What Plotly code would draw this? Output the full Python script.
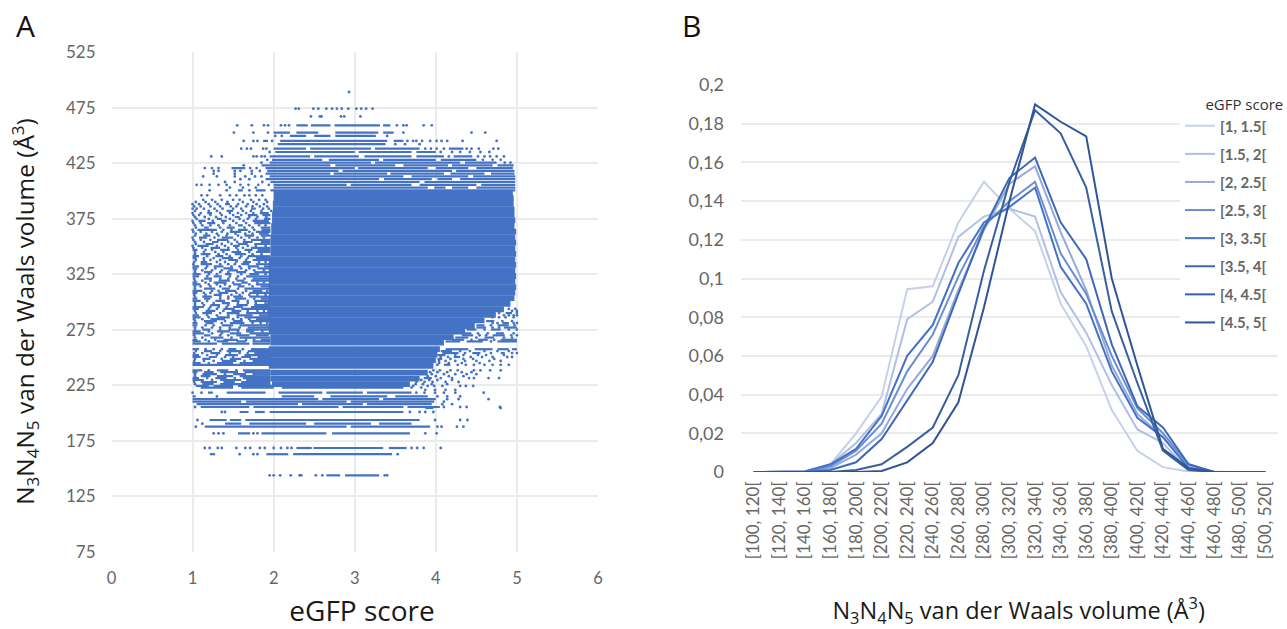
import plotly.graph_objects as go

# ---------- Panel B ----------
BIN_LABELS = ["[100, 120[", "[120, 140[", "[140, 160[", "[160, 180[", "[180, 200[", "[200, 220[", "[220, 240[",
              "[240, 260[", "[260, 280[", "[280, 300[", "[300, 320[", "[320, 340[", "[340, 360[", "[360, 380[",
              "[380, 400[", "[400, 420[", "[420, 440[", "[440, 460[", "[460, 480[", "[480, 500[", "[500, 520["]
S1 = [0, 0, 0.0003, 0.004, 0.020, 0.039, 0.0945, 0.096, 0.129, 0.150, 0.136, 0.1245, 0.087, 0.065, 0.032, 0.011, 0.0025, 0.0002, 0, 0, 0]
S2 = [0, 0, 0.0003, 0.004, 0.015, 0.030, 0.079, 0.088, 0.1215, 0.132, 0.136, 0.132, 0.093, 0.072, 0.045, 0.022, 0.015, 0.001, 0, 0, 0]
S3 = [0, 0, 0.0002, 0.002, 0.009, 0.020, 0.043, 0.060, 0.094, 0.125, 0.149, 0.158, 0.124, 0.094, 0.055, 0.030, 0.018, 0.003, 0, 0, 0]
S4 = [0, 0, 0.0003, 0.003, 0.011, 0.025, 0.052, 0.071, 0.101, 0.127, 0.140, 0.150, 0.113, 0.092, 0.060, 0.033, 0.020, 0.004, 0, 0, 0]
S5 = [0, 0, 0.0003, 0.004, 0.012, 0.029, 0.060, 0.076, 0.108, 0.129, 0.137, 0.147, 0.106, 0.087, 0.052, 0.028, 0.018, 0.002, 0, 0, 0]
S6 = [0, 0, 0, 0.001, 0.005, 0.017, 0.037, 0.057, 0.092, 0.126, 0.152, 0.1625, 0.129, 0.110, 0.066, 0.034, 0.023, 0.004, 0, 0, 0]
S7 = [0, 0, 0, 0, 0.001, 0.004, 0.013, 0.023, 0.050, 0.104, 0.150, 0.187, 0.175, 0.147, 0.083, 0.046, 0.011, 0.001, 0, 0, 0]
S8 = [0, 0, 0, 0, 0, 0.0005, 0.005, 0.015, 0.036, 0.085, 0.140, 0.190, 0.181, 0.1735, 0.100, 0.055, 0.012, 0.002, 0, 0, 0]
SERIES = [S1, S2, S3, S4, S5, S6, S7, S8]
SERIES_NAMES = ["[1, 1.5[", "[1.5, 2[", "[2, 2.5[", "[2.5, 3[", "[3, 3.5[", "[3.5, 4[", "[4, 4.5[", "[4.5, 5["]
SERIES_COLORS = ["#c6d0ea", "#b0bfe5", "#93aadd", "#6b8dd0", "#4472c4", "#4069b5", "#38609f", "#2f5597"]

# ---------- Panel A: rows of the cloud ----------
# Solid core: (volume, first score, last score)
CORE = [(226, 1.98, 3.68), (231, 1.96, 3.8), (236.4, 1.96, 3.9), (242.6, 1.94, 3.97), (247.6, 1.94, 4.0),
        (252.6, 1.94, 4.02), (257.6, 1.94, 4.05), (263.4, 1.96, 4.1), (268.4, 1.96, 4.22), (273.4, 1.94, 4.36),
        (278.4, 1.94, 4.48), (283.4, 1.94, 4.6), (288.4, 1.92, 4.74), (293.4, 1.92, 4.84), (298.4, 1.92, 4.92),
        (303.4, 1.94, 4.97), (308.4, 1.94, 4.98), (313.4, 1.94, 4.99), (318.4, 1.94, 4.98), (323.4, 1.94, 4.99),
        (328.4, 1.94, 4.98), (333.4, 1.94, 4.99), (338.4, 1.94, 4.98), (343.4, 1.96, 4.99), (348.4, 1.96, 4.98),
        (353.4, 1.96, 4.99), (358.4, 1.96, 4.98), (363.4, 1.97, 4.99), (368.4, 1.97, 4.97), (373.4, 1.98, 4.98),
        (378.4, 1.98, 4.97), (383.4, 1.99, 4.97), (388.4, 1.99, 4.96), (393.4, 2.0, 4.96), (398.0, 2.0, 4.95)]

# Thin rows with gaps: volume -> dots (single score) and runs (first, last)
ROWS = {
    489: [2.93],
    474: [2.27, 2.31, 2.49, 2.55, 2.65, 2.72, 2.78, 2.84, 2.92, 3.02, 3.08, 3.14, 3.22],
    467: [2.46, 2.57, 2.59, 2.83, 2.87, 3.07],
    459: [1.55, 1.73, 1.88, 1.93, 2.09, 2.14, 2.19, (2.28, 2.42), (2.46, 2.7), (2.75, 3.31), (3.35, 3.44), 3.52, 3.6, 3.64, 3.85, 3.95],
    452.5: [1.51, 1.75, 1.93, (2.0, 2.2), (2.28, 2.55), (2.76, 3.29), (3.35, 3.48), 3.6, 4.44, 4.61],
    449.5: [2.02, 2.1, (2.2, 2.4), (2.5, 2.7), (2.76, 3.26), 3.4],
    445: [1.63, 1.75, 1.8, (1.87, 1.93), 1.98, (2.08, 3.4), (3.48, 3.6), 3.65, 3.72, 3.76, 3.83, 3.93, 4.01, 4.07, 4.14, 4.33, 4.75],
    442: [(2.05, 3.38), 3.5, 3.62, 3.8],
    438: [1.6, 1.67, 1.72, 1.87, 1.91, (2.0, 2.4), (2.45, 3.2), (3.25, 3.8), 3.87, 3.94, 4.01, 4.1, (4.16, 4.34), 4.38, 4.44, 4.53, 4.71, 4.77],
    435: [1.95, (2.02, 3.0), (3.05, 3.7), (3.76, 4.0), 4.06, 4.2, 4.3, 4.42, 4.55, 4.66],
    431: [1.23, 1.36, 1.75, 1.79, 1.85, 1.89, (1.95, 2.45), (2.5, 3.05), (3.12, 3.7), (3.76, 4.1), 4.16, (4.22, 4.45), 4.52, 4.6, 4.67, 4.75, 4.84],
    428: [1.92, (1.98, 2.6), (2.68, 3.3), (3.35, 4.0), (4.06, 4.5), 4.58, 4.7, 4.8],
    425.5: [1.85, (1.95, 3.2), (3.25, 4.3), (4.36, 4.75), 4.85, 4.92],
    423: [1.63, (1.85, 2.7), (2.76, 3.5), (3.6, 4.15), (4.2, 4.7), (4.76, 4.96)],
    420.5: [1.15, 1.24, 1.32, (1.48, 1.65), 1.71, 1.79, (1.9, 3.0), (3.04, 3.9), (4.0, 4.4), (4.5, 4.95)],
    418: [1.26, 1.32, 1.52, 1.59, 1.73, 1.83, (1.92, 2.8), (2.85, 4.2), (4.25, 4.97)],
    415.5: [1.26, 1.52, 1.73, (1.9, 2.7), (2.74, 3.4), (3.44, 4.1), (4.18, 4.6), (4.68, 4.97)],
    413: [1.13, 1.30, 1.52, 1.65, 1.77, 1.85, (1.95, 3.6), (3.7, 4.4), (4.46, 4.98)],
    410.5: [1.59, 1.7, (1.9, 3.3), (3.36, 3.95), (4.02, 4.2), (4.3, 4.98)],
    408: [1.4, 1.52, 1.86, (1.96, 3.8), (3.86, 4.98)],
    405.5: [1.05, 1.11, 1.21, 1.32, 1.42, 1.59, 1.69, 1.81, 1.94, (2.0, 2.9), (2.95, 3.7), (3.8, 4.5), (4.56, 4.98)],
    403: [1.46, 1.62, 1.78, (2.0, 3.9), (3.98, 4.12), (4.2, 4.4), (4.5, 4.98)],
    400.5: [1.21, 1.42, (1.56, 1.62), 1.7, (1.78, 1.9), (1.96, 4.98)],
    396: [1.11, 1.18, 1.34, 1.46, 1.54, 1.64, 1.7, 1.78, 1.86],
    392: [1.13, 1.24, 1.36, 1.5, 1.58, 1.72, 1.82, 1.9],
    388: [1.0, 1.08, 1.2, 1.31, (1.4, 1.46), 1.56, 1.68, 1.79, 1.88],
    384: [1.0, 1.05, 1.14, 1.27, 1.37, 1.5, 1.6, (1.72, 1.78), 1.87, 1.94],
    380: [1.0, 1.1, (1.18, 1.24), 1.34, 1.46, 1.56, 1.66, 1.75, (1.83, 1.94)],
    376.5: [1.03, 1.15, 1.29, 1.41, (1.52, 1.58), 1.7, 1.8, 1.91],
    373: [1.0, (1.07, 1.16), 1.25, (1.35, 1.42), 1.5, 1.63, (1.74, 1.94)],
    369: [1.03, 1.12, 1.22, 1.32, 1.46, (1.56, 1.62), 1.7, 1.82, 1.9],
    365: [1.0, (1.06, 1.3), 1.38, 1.48, (1.56, 1.68), 1.76, (1.85, 1.96)],
    361.5: [1.04, 1.17, 1.3, 1.43, 1.53, 1.65, 1.74, (1.82, 1.94)],
    358: [1.0, (1.08, 1.18), 1.27, (1.36, 1.5), 1.6, 1.7, 1.8, 1.88],
    354: [1.03, 1.14, (1.24, 1.32), 1.44, 1.55, (1.62, 1.74), (1.84, 1.96)],
    350.5: [1.0, (1.06, 1.2), 1.3, 1.4, (1.5, 1.58), 1.68, 1.78, 1.9],
    347: [(1.0, 1.06), 1.16, 1.24, (1.34, 1.46), 1.56, (1.64, 1.74), (1.8, 1.96)],
    343: [1.03, (1.1, 1.22), 1.32, 1.42, (1.52, 1.66), 1.74, 1.85],
    339.5: [(1.0, 1.05), 1.14, 1.26, (1.36, 1.5), 1.58, 1.68, (1.78, 1.94)],
    336: [1.02, (1.1, 1.18), 1.3, 1.4, 1.54, (1.62, 1.72), 1.82, 1.9],
    332: [(1.0, 1.08), 1.18, (1.26, 1.38), 1.48, 1.58, (1.68, 1.82), (1.88, 1.96)],
    328.5: [1.03, 1.12, 1.24, 1.36, (1.44, 1.56), 1.66, 1.76, 1.88],
    325: [(1.0, 1.1), 1.2, 1.3, (1.4, 1.48), 1.6, (1.7, 1.82), 1.9],
    321: [1.02, (1.14, 1.24), 1.34, 1.44, 1.54, 1.64, (1.74, 1.96)],
    317.5: [(1.0, 1.06), 1.16, (1.26, 1.42), 1.5, (1.6, 1.68), 1.8, 1.88],
    314: [1.03, 1.1, 1.22, 1.34, 1.46, (1.56, 1.64), 1.74, (1.84, 1.96)],
    310: [(1.0, 1.12), 1.24, 1.32, (1.4, 1.54), 1.66, (1.74, 1.86), 1.92],
    306.5: [1.02, 1.16, (1.26, 1.36), 1.48, 1.58, 1.7, 1.8, 1.9],
    303: [(1.0, 1.06), (1.14, 1.22), 1.34, 1.44, (1.52, 1.66), 1.76, (1.84, 1.96)],
    299: [1.03, 1.12, 1.26, (1.36, 1.46), 1.56, 1.68, 1.78, 1.9],
    295.5: [(1.0, 1.14), 1.22, 1.32, 1.42, (1.5, 1.62), (1.72, 1.94)],
    292: [1.03, (1.16, 1.28), 1.38, (1.48, 1.6), 1.68, 1.8, 1.88, 4.94, 5.0],
    288: [(1.0, 1.08), 1.18, 1.3, 1.44, (1.54, 1.74), (1.82, 1.92), 4.84, 4.9, 4.96, 5.0],
    284.5: [1.02, 1.12, (1.22, 1.4), 1.5, 1.6, 1.7, (1.78, 1.96)],
    281: [(1.0, 1.06), (1.16, 1.26), 1.36, (1.46, 1.64), 1.74, 1.84, 1.92, 4.7, 4.76, (4.82, 4.9), 4.96, 5.0],
    277: [1.03, 1.12, 1.24, 1.34, 1.46, 1.58, (1.68, 1.96), (4.5, 4.62), 4.7, 4.78, (4.84, 5.0)],
    273.5: [(1.0, 1.1), 1.2, (1.3, 1.46), 1.56, (1.66, 1.76), 1.86],
    270: [1.02, (1.14, 1.22), 1.34, 1.44, (1.54, 1.7), (1.78, 1.94), (4.32, 4.46), 4.54, 4.62, (4.7, 4.85), 4.93, 5.0],
    266: [(1.0, 1.06), 1.16, 1.28, (1.38, 1.56), 1.66, 1.76, (1.84, 1.96), (4.2, 4.35), 4.44, (4.52, 4.64), 4.72, (4.8, 5.0)],
    262.5: [(1.0, 1.3), (1.36, 1.7), (1.74, 1.96)],
    257.5: [(1.0, 1.08), 1.16, 1.26, 1.36, (1.44, 1.54), 1.62, (1.72, 1.96), (4.12, 4.4), (4.48, 4.7), (4.76, 4.9), (4.94, 5.0)],
    254: [1.02, 1.12, (1.22, 1.34), 1.46, 1.58, 1.68, (1.76, 1.96), (4.08, 4.28), 4.36, (4.45, 4.55), 4.68, (4.8, 4.85), 4.94, 5.0],
    250.5: [(1.0, 1.1), (1.2, 1.3), 1.4, 1.5, (1.6, 1.72), (1.8, 1.96), 4.06, 4.15, (4.22, 4.3), 4.43, 4.57, 4.7, 4.88, 4.94],
    247: [1.02, 1.14, 1.26, (1.36, 1.54), 1.64, (1.74, 1.96), 4.04, 4.12, 4.24, 4.36, 4.5, 4.66, 4.8],
    243.5: [(1.0, 1.96), 4.02, (4.1, 4.18), 4.27, 4.37, 4.47, 4.6, 4.7, 4.8, 4.9],
    238.5: [(1.0, 1.12), 1.2, (1.3, 1.44), 1.54, (1.62, 1.96), 3.97, 4.05, 4.18, 4.27, 4.47, 4.55, 4.67, 4.8],
    235: [1.03, (1.12, 1.3), 1.4, (1.5, 1.66), (1.74, 1.96), 3.95, 4.1, 4.24, 4.38, 4.5],
    231.5: [(1.0, 1.08), 1.18, (1.28, 1.42), 1.52, (1.62, 1.96), (3.85, 3.95), 4.06, 4.2, 4.41, 4.47, 4.65, 4.78],
    228: [1.02, (1.1, 1.3), (1.38, 1.52), (1.6, 1.96), 3.76, 3.86, 3.96, 4.12, 4.28],
    224.5: [(1.04, 1.2), (1.26, 1.5), (1.56, 1.98), 3.72, 3.9, 3.98, 4.08, 4.3, 4.37, 4.46],
    # lower stripes
    218.4: [1.0, 1.11, (1.19, 1.25), (1.42, 1.9), (2.06, 2.6), (2.65, 3.1), (3.15, 3.7), 3.76, 3.86, 3.99, 4.1, 4.24, 4.59],
    215: [(1.0, 1.04), 1.3, (2.1, 2.5), (2.7, 3.4), (3.5, 3.9), 4.02, 4.14, 4.3],
    212.5: [(1.0, 2.55), (2.6, 3.3), (3.35, 4.0), 4.14, 4.28, 4.65],
    210.3: [(1.0, 1.6), (1.66, 2.9), (2.95, 3.98), 4.1],
    208: [(1.05, 2.3), (2.35, 3.1), (3.15, 3.95), 4.08, 4.2],
    205.5: [1.03, (1.1, 1.7), (1.75, 2.8), (2.85, 3.6), (3.65, 4.05), 4.1, 4.3, 4.38, 4.79],
    201: [1.36, 1.4, (1.58, 1.69), (1.77, 1.89), (1.95, 3.6), 3.68, 3.8, 3.87, 3.97],
    193.8: [1.06, (1.21, 1.42), (1.46, 1.6), (1.65, 3.8), 3.99, 4.3, 4.39],
    190.5: [1.12, (1.4, 1.6), (1.7, 2.4), (2.5, 3.2), (3.3, 3.7)],
    187.8: [1.04, (1.15, 2.9), (2.95, 3.93), 4.02, 4.07, 4.26, 4.34],
    181.8: [1.26, 1.32, 1.38, (1.56, 1.71), 1.75, 1.8, (1.85, 2.65), (2.72, 3.68), 3.87, 4.01],
    168.6: [1.15, 1.21, 1.31, 1.36, 1.54, 1.65, 1.71, 1.83, 1.89, 2.0, 2.09, 2.17, 2.22, (2.28, 2.47), (2.49, 3.35), (3.42, 3.64), 3.7, 3.77, 3.85, 4.06],
    163: [1.23, 1.26, 1.58, 1.75, 1.8, (1.91, 2.18), (2.24, 3.46), 3.53],
    144: [1.95, 2.0, 2.08, 2.21, 2.32, 2.34, 2.52, 2.6, (2.65, 2.82), (2.88, 3.3), 3.37, 3.4],
    204.6: [(3.87, 3.97), 4.8],
    221: [3.87, 3.99, 4.24, 4.12],
}

# Extra rows between the ones above, where the cloud on both flanks is denser
ROWS_FILL = {
    390: [1.04, 1.16, 1.28, 1.43, 1.62, 1.75, 1.92],
    386: [1.02, 1.1, 1.22, 1.34, 1.47, 1.54, 1.66, 1.74, 1.83, 1.92],
    382: [1.03, 1.2, 1.3, (1.42, 1.5), 1.62, 1.72, 1.85, 1.97],
    378.2: [1.01, 1.08, 1.22, 1.36, 1.5, 1.6, (1.68, 1.8), (1.86, 1.96)],
    374.8: [1.05, 1.2, (1.3, 1.36), 1.46, 1.58, 1.68, 1.78, (1.88, 1.96)],
    371: [1.01, 1.1, (1.18, 1.28), 1.38, 1.54, 1.66, (1.76, 1.96)],
    367: [1.04, (1.14, 1.2), 1.34, (1.42, 1.52), 1.64, 1.74, (1.84, 1.96)],
    363.2: [1.01, 1.1, 1.24, 1.36, (1.46, 1.6), 1.7, (1.78, 1.96)],
    359.8: [1.03, (1.13, 1.22), 1.32, 1.42, 1.56, (1.64, 1.76), (1.84, 1.96)],
    356: [1.01, 1.1, 1.22, (1.3, 1.44), 1.52, 1.64, (1.72, 1.96)],
    352.2: [1.04, (1.16, 1.26), 1.36, 1.48, (1.56, 1.68), (1.76, 1.96)],
    348.8: [1.01, 1.12, (1.22, 1.34), 1.44, 1.54, 1.62, (1.72, 1.96)],
    345: [1.03, 1.14, 1.28, 1.38, (1.48, 1.6), 1.7, (1.78, 1.96)],
    341.2: [(1.0, 1.08), 1.18, (1.28, 1.38), 1.46, 1.6, (1.68, 1.96)],
    337.8: [1.04, 1.14, 1.22, 1.34, (1.44, 1.56), 1.66, (1.74, 1.96)],
    334: [1.01, (1.1, 1.24), 1.34, 1.44, 1.52, (1.6, 1.7), (1.78, 1.96)],
    330.2: [(1.0, 1.06), 1.16, 1.28, (1.38, 1.5), 1.6, 1.7, (1.8, 1.96)],
    326.8: [1.03, (1.14, 1.24), 1.34, 1.44, (1.54, 1.66), (1.76, 1.96)],
    323: [(1.0, 1.08), 1.18, (1.26, 1.36), 1.46, 1.56, (1.66, 1.96)],
    319.2: [1.03, 1.12, 1.22, (1.32, 1.46), (1.54, 1.64), (1.72, 1.96)],
    315.8: [(1.0, 1.1), 1.2, 1.3, 1.4, (1.5, 1.6), 1.7, (1.78, 1.96)],
    312: [1.03, (1.14, 1.28), (1.36, 1.46), 1.56, (1.64, 1.96)],
    308.2: [(1.0, 1.06), 1.14, 1.22, (1.32, 1.44), 1.54, 1.62, (1.7, 1.96)],
    304.8: [1.03, (1.12, 1.24), 1.34, 1.44, (1.5, 1.62), (1.7, 1.96)],
    301: [(1.0, 1.1), 1.18, (1.28, 1.4), (1.48, 1.58), 1.68, (1.76, 1.96)],
    297.2: [1.03, 1.14, (1.22, 1.34), 1.44, (1.54, 1.68), (1.76, 1.96)],
    293.8: [(1.0, 1.08), 1.2, 1.3, (1.38, 1.52), (1.6, 1.96), 4.9, 4.98],
    290: [1.04, (1.12, 1.24), 1.34, (1.42, 1.58), (1.66, 1.96), 4.78, (4.86, 4.94), 5.0],
    286.2: [(1.0, 1.1), 1.2, (1.3, 1.46), 1.56, (1.64, 1.96), 4.7, 4.78, 4.86, 4.96],
    282.8: [1.03, (1.14, 1.3), 1.4, (1.5, 1.62), (1.7, 1.96), (4.62, 4.72), 4.82, 4.94],
    279: [(1.0, 1.06), 1.16, 1.26, (1.36, 1.5), (1.58, 1.96), (4.5, 4.6), 4.68, (4.76, 4.9), 4.97],
    275.2: [1.03, (1.12, 1.22), 1.34, (1.44, 1.58), (1.66, 1.96), (4.38, 4.5), 4.6, (4.68, 4.8), 4.9, 5.0],
    271.8: [(1.0, 1.14), 1.24, 1.36, (1.46, 1.6), (1.7, 1.96), (4.34, 4.44), 4.52, 4.64, (4.74, 4.84), 4.96],
    268: [1.03, 1.12, (1.22, 1.38), 1.48, (1.58, 1.96), (4.24, 4.4), 4.5, (4.6, 4.72), 4.84, 4.94],
    264.5: [(1.0, 1.1), 1.2, (1.3, 1.44), (1.54, 1.66), (1.74, 1.96), (4.12, 4.3), (4.38, 4.58), 4.68, (4.76, 5.0)],
    255.8: [1.04, (1.14, 1.24), 1.34, (1.42, 1.6), (1.68, 1.96), (4.06, 4.2), 4.3, 4.42, 4.6, 4.76, 4.9],
    252.2: [(1.0, 1.08), 1.18, 1.3, (1.4, 1.56), (1.64, 1.96), (4.02, 4.12), 4.24, 4.34, 4.52, 4.62, 4.84],
    248.8: [1.03, (1.12, 1.22), 1.36, (1.46, 1.6), (1.7, 1.96), (4.02, 4.08), 4.18, 4.34, 4.46, 4.72],
    245: [(1.0, 1.1), 1.2, (1.3, 1.5), (1.58, 1.96), 4.04, 4.16, 4.32, 4.54],
    236.8: [(1.0, 1.06), (1.14, 1.26), (1.34, 1.56), (1.64, 1.96), 3.93, 4.02, 4.14, 4.32, 4.44],
    233.2: [1.03, (1.1, 1.22), (1.3, 1.5), (1.58, 1.96), 3.9, 4.0, 4.16, 4.34],
    229.8: [(1.0, 1.14), 1.24, (1.34, 1.6), (1.66, 1.96), 3.82, 3.92, 4.02, 4.2],
    226: [1.03, (1.12, 1.26), (1.34, 1.96), 3.75, 3.84, 3.95, 4.14],
    223: [(1.1, 1.5), (1.6, 2.0), (2.1, 3.6), 3.7, 3.82],
}

X_TICKS = [0, 1, 2, 3, 4, 5, 6]
Y_TICKS = [75, 125, 175, 225, 275, 325, 375, 425, 475, 525]
B_TICKS = [0, 0.02, 0.04, 0.06, 0.08, 0.1, 0.12, 0.14, 0.16, 0.18, 0.2]

DOT = "#4472c4"
GRID = "#ebebeb"
TICK = "#666666"
TITLE_INK = "#1a1a1a"
VOLUME_TITLE = "N<sub>3</sub>N<sub>4</sub>N<sub>5</sub> van der Waals volume (Å<sup>3</sup>)"

core_x, core_y = [], []
for vol, a, b in CORE:
    core_x += [a, b, None]
    core_y += [vol, vol, None]

run_x, run_y, dot_x, dot_y = [], [], [], []
for table in (ROWS, ROWS_FILL):
    for vol, items in table.items():
        for it in items:
            if isinstance(it, tuple):
                run_x += [it[0], it[1], None]
                run_y += [vol, vol, None]
            else:
                dot_x.append(it)
                dot_y.append(vol)

fig = go.Figure()
fig.add_trace(go.Scatter(x=core_x, y=core_y, mode="lines", line=dict(color=DOT, width=5.8),
                         showlegend=False, xaxis="x", yaxis="y", hoverinfo="skip"))
fig.add_trace(go.Scatter(x=run_x, y=run_y, mode="lines", line=dict(color=DOT, width=2.2),
                         showlegend=False, xaxis="x", yaxis="y", hoverinfo="skip"))
fig.add_trace(go.Scatter(x=dot_x, y=dot_y, mode="markers", marker=dict(color=DOT, size=2.8),
                         showlegend=False, xaxis="x", yaxis="y"))

for name, vals, col in zip(SERIES_NAMES, SERIES, SERIES_COLORS):
    fig.add_trace(go.Scatter(x=BIN_LABELS, y=vals, name=name, legendgroup=name, mode="lines",
                             line=dict(color=col, width=2), xaxis="x2", yaxis="y2"))

W, H = 1287, 629
fig.update_layout(
    width=W, height=H, margin=dict(l=0, r=0, t=0, b=0), autosize=False,
    paper_bgcolor="white", plot_bgcolor="white", separators=",.",
    font=dict(family="Lato", color=TICK),
    xaxis=dict(domain=[111.5 / W, 598 / W], range=[0, 6], tickvals=X_TICKS, showgrid=True, gridcolor=GRID, gridwidth=1.5,
               zeroline=False, showline=False, tickfont=dict(size=16.5, color=TICK), anchor="y", ticks="", automargin=False,
               ticklabelstandoff=14,
               title=dict(text="&nbsp;&nbsp;eGFP score", font=dict(family="Open Sans", size=28, color=TITLE_INK), standoff=16)),
    yaxis=dict(domain=[1 - 552 / H, 1 - 52 / H], range=[75, 525], tickvals=Y_TICKS, showgrid=True, gridcolor=GRID, gridwidth=1.5,
               zeroline=False, showline=False, tickfont=dict(size=17, color=TICK), anchor="x", ticks="", automargin=False,
               ticklabelstandoff=15,
               title=dict(text=VOLUME_TITLE + "&nbsp;&nbsp;&nbsp;", font=dict(family="Open Sans", size=24.4, color=TITLE_INK), standoff=24)),
    xaxis2=dict(domain=[741 / W, 1278 / W], type="category", categoryorder="array", categoryarray=BIN_LABELS,
                range=[-0.5, 20.5], showgrid=False, zeroline=False, showline=False, tickangle=-90,
                tickfont=dict(size=17, color=TICK), anchor="y2", ticks="", automargin=False, ticklabelstandoff=5,
                title=dict(text="&nbsp;&nbsp;&nbsp;" + VOLUME_TITLE, font=dict(family="Open Sans", size=23.5, color=TITLE_INK), standoff=50)),
    yaxis2=dict(domain=[1 - 472 / H, 1 - 85 / H], range=[0, 0.2], tickvals=B_TICKS, showgrid=True, gridcolor=GRID, gridwidth=1.5,
                zeroline=False, showline=False, tickfont=dict(size=18, color=TICK), anchor="x2", ticks="", automargin=False,
                ticklabelstandoff=16),
    legend=dict(x=1180 / W, y=1 - 90 / H, xanchor="left", yanchor="top", bgcolor="white", borderwidth=0,
                font=dict(size=15, color=TICK, family="Lato", weight="bold"), tracegroupgap=5.6, itemclick=False,
                title=dict(text="&nbsp;&nbsp;&nbsp;&nbsp;&nbsp;&nbsp;eGFP score",
                           font=dict(family="Open Sans", size=15, color="#333333", weight="normal"))),
    annotations=[
        dict(text="A", x=25 / W, y=1 - 26 / H, xref="paper", yref="paper", xanchor="center", yanchor="middle",
             showarrow=False, font=dict(family="Open Sans", size=30, color="#111111")),
        dict(text="B", x=691 / W, y=1 - 26 / H, xref="paper", yref="paper", xanchor="center", yanchor="middle",
             showarrow=False, font=dict(family="Open Sans", size=30, color="#111111")),
    ],
)
fig.write_html("out.html", config={"displayModeBar": False}, post_script="document.body.style.margin='0';")
